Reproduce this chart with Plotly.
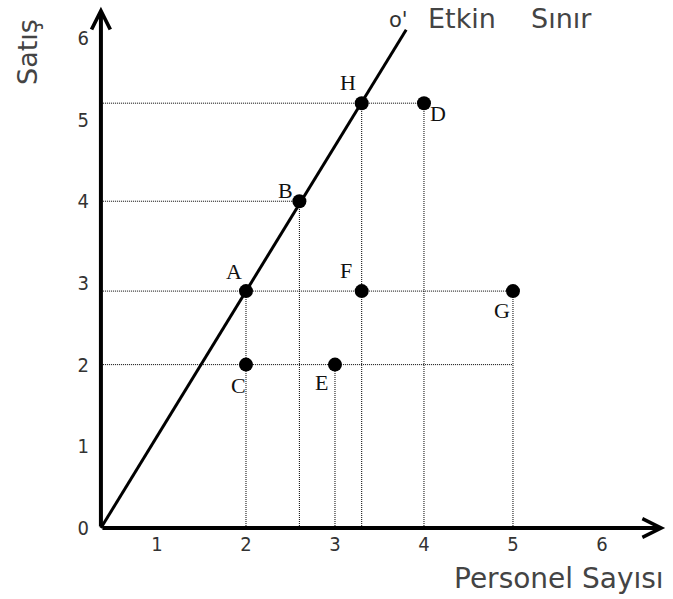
import plotly.graph_objects as go

# ---------------- data ----------------
point_labels = ["A", "B", "C", "D", "E", "F", "G", "H"]
personel = [2, 2.6, 2, 4, 3, 3.3, 5, 3.3]          # x: Personel Sayısı
satis = [2.9, 4, 2, 5.2, 2, 2.9, 2.9, 5.2]         # y: Satış

frontier_x = [0.37, 3.8]     # Etkin Sınır line (from axis origin to O')
frontier_y = [0, 6.1]

x_ticks = [1, 2, 3, 4, 5, 6]
y_ticks = [0, 1, 2, 3, 4, 5, 6]

# dotted reference lines
h_guide_y = [5.2, 4, 2.9, 2]
h_guide_xend = [4, 2.6, 5, 5]
v_guide_x = [2, 2.6, 3, 3.3, 4, 5]
v_guide_ytop = [2.9, 4, 2, 5.2, 5.2, 2.9]

axis_origin_x = 0.37
axis_origin_y = 0
x_axis_end = 6.71
y_axis_end = 6.38

# ---------------- layout helpers ----------------
W, H = 673, 599
X_RANGE = [-0.764, 6.798]
Y_RANGE = [-0.869, 6.463]


def px(x):
    return x / W


def py(y):
    return 1 - y / H


# label offsets (pixels) relative to each point
label_shift = {
    "A": (-12, 20), "B": (-14, 11), "C": (-7, -21), "D": (14, -10),
    "E": (-13, -18), "F": (-16, 21), "G": (-11, -19), "H": (-14, 21),
}

fig = go.Figure()

# dotted guides
gx, gy = [], []
for yv, xe in zip(h_guide_y, h_guide_xend):
    gx += [axis_origin_x, xe, None]
    gy += [yv, yv, None]
for xv, yt in zip(v_guide_x, v_guide_ytop):
    gx += [xv, xv, None]
    gy += [axis_origin_y, yt, None]
fig.add_trace(go.Scatter(x=gx, y=gy, mode="lines",
                         line=dict(color="black", width=1, dash="1px,1px"),
                         hoverinfo="skip", showlegend=False))

# efficient frontier line
fig.add_trace(go.Scatter(x=frontier_x, y=frontier_y, mode="lines",
                         line=dict(color="black", width=3),
                         hoverinfo="skip", showlegend=False))

# points
fig.add_trace(go.Scatter(x=personel, y=satis, mode="markers",
                         marker=dict(color="black", size=14),
                         text=point_labels, hoverinfo="skip", showlegend=False))

annotations = []
for lab, xv, yv in zip(point_labels, personel, satis):
    dx, dy = label_shift[lab]
    annotations.append(dict(x=xv, y=yv, xref="x", yref="y", text=lab,
                            showarrow=False, xshift=dx, yshift=dy,
                            font=dict(family="Liberation Serif, Times New Roman, serif",
                                      size=22, color="#111")))

# axis arrows
annotations.append(dict(x=x_axis_end, y=axis_origin_y, ax=axis_origin_x, ay=axis_origin_y,
                        xref="x", yref="y", axref="x", ayref="y", text="",
                        showarrow=True, arrowhead=5, arrowsize=0.92, arrowwidth=4,
                        arrowcolor="black"))
annotations.append(dict(x=axis_origin_x, y=y_axis_end, ax=axis_origin_x, ay=axis_origin_y,
                        xref="x", yref="y", axref="x", ayref="y", text="",
                        showarrow=True, arrowhead=5, arrowsize=0.92, arrowwidth=4,
                        arrowcolor="black"))

title_font = dict(family="DejaVu Sans, sans-serif", size=27, color="#444")
annotations.append(dict(x=px(28), y=py(52), xref="paper", yref="paper", text="Satış",
                        textangle=-90, showarrow=False, font=title_font,
                        xanchor="center", yanchor="middle"))
annotations.append(dict(x=px(462), y=py(19), xref="paper", yref="paper", text="Etkin",
                        showarrow=False, font=title_font, xanchor="center", yanchor="middle"))
annotations.append(dict(x=px(561), y=py(19), xref="paper", yref="paper", text="Sınır",
                        showarrow=False, font=title_font, xanchor="center", yanchor="middle"))
annotations.append(dict(x=px(559), y=py(578), xref="paper", yref="paper", text="Personel Sayısı",
                        showarrow=False, font=dict(family="DejaVu Sans, sans-serif", size=28, color="#444"),
                        xanchor="center", yanchor="middle"))
annotations.append(dict(x=frontier_x[-1], y=frontier_y[-1], xref="x", yref="y", text="o'",
                        showarrow=False, xshift=-8, yshift=10,
                        font=dict(family="DejaVu Sans, sans-serif", size=21, color="#333")))

tick_font = dict(family="Liberation Sans Narrow, DejaVu Sans Condensed, sans-serif",
                 size=20, color="#333")

fig.update_layout(
    width=W, height=H,
    margin=dict(l=0, r=0, t=0, b=0),
    paper_bgcolor="white", plot_bgcolor="white",
    showlegend=False,
    hovermode=False,
    annotations=annotations,
    xaxis=dict(range=X_RANGE, showgrid=False, zeroline=False, showline=False,
               tickvals=x_ticks, ticktext=[str(t) for t in x_ticks], ticks="",
               anchor="free", position=py(528), side="bottom",
               ticklabelstandoff=2, tickfont=tick_font),
    yaxis=dict(range=Y_RANGE, showgrid=False, zeroline=False, showline=False,
               tickvals=y_ticks, ticktext=[str(t) for t in y_ticks], ticks="",
               anchor="free", position=px(101), side="left",
               ticklabelstandoff=12, tickfont=tick_font),
)

fig.write_html("out.html", config={"displayModeBar": False},
               post_script="document.body.style.margin='0';")
